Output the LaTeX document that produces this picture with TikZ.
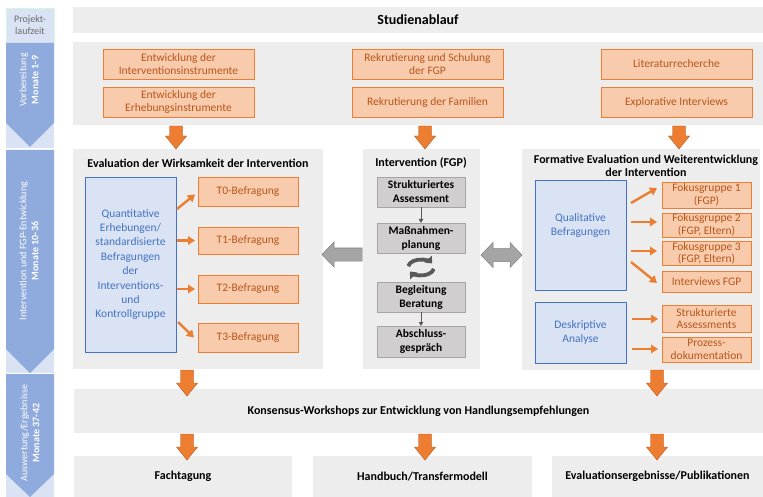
\documentclass[tikz,border=0pt]{standalone}
\usepackage{fontspec}
\setmainfont{Carlito}
\usetikzlibrary{arrows.meta,calc}
\definecolor{panel}{HTML}{EDEDED}
\definecolor{ofill}{HTML}{F8CBAD}
\definecolor{oline}{HTML}{ED7D31}
\definecolor{otext}{HTML}{B8561A}
\definecolor{bfill}{HTML}{DAE3F3}
\definecolor{bline}{HTML}{4472C4}
\definecolor{chev}{HTML}{8FAADC}
\definecolor{gfill}{HTML}{D0CECE}
\definecolor{gline}{HTML}{A5A5A5}
\definecolor{garrow}{HTML}{A5A5A5}
\definecolor{garrowline}{HTML}{7F7F7F}
\definecolor{dgray}{HTML}{595959}
\newcommand\fs[2]{\fontsize{#1}{#2}\selectfont}
\newcommand\bx[7]{\node[#1, minimum width={#4-#2}, minimum height={#5-#3}] (#6) at ({(#2+#4)/2},{(#3+#5)/2}) {#7};}
\newcommand\darr[3]{\filldraw[oblk] ({#1-6.5},#2) -- ({#1+6.5},#2) -- ({#1+6.5},{#3-13}) -- ({#1+10.5},{#3-13}) -- (#1,#3) -- ({#1-10.5},{#3-13}) -- ({#1-6.5},{#3-13}) -- cycle;}
\begin{document}
\begin{tikzpicture}[x=1pt,y=-1pt,
  every node/.style={inner sep=1pt, outer sep=0pt, align=center},
  panelbox/.style={fill=panel, draw=none},
  ptitle/.style={font=\bfseries\fs{12}{13}, text=black},
  obox/.style={fill=ofill, draw=oline, line width=0.8pt, text=otext, font=\fs{11.5}{13.5}},
  osmall/.style={obox, font=\fs{11.5}{12.5}},
  bbox/.style={fill=bfill, draw=bline, line width=0.8pt, text=bline, font=\fs{11.5}{14.4}},
  gbox/.style={fill=gfill, draw=gline, line width=0.8pt, text=black, font=\bfseries\fs{11.5}{14}},
  oblk/.style={fill=oline, draw=otext, line width=0.4pt},
  gblk/.style={fill=garrow, draw=garrowline, line width=0.5pt},
  oconn/.style={draw=oline, line width=2.4pt, -{Triangle[length=7pt,width=8.5pt]}},
  gconn/.style={draw=dgray, line width=1pt, -{Triangle[length=4pt,width=4.5pt]}},
  cyc/.style={draw=dgray, line width=3.8pt, -{Triangle[length=6pt,width=9.5pt]}},
  chevtext/.style={rotate=90, text=white, font=\fs{10}{12}},
  bottomtext/.style={panelbox, font=\bfseries\fs{12}{13}}
]
\fill[white] (0,0) rectangle (763,497);
\useasboundingbox (0,0) rectangle (763,497);

% left timeline column
\bx{fill=bfill, draw=bfill!70!green!40, line width=0.5pt, text=dgray!90, font=\fs{10}{12}}{6}{8}{54}{42}{pl}{Projekt-\\laufzeit}
\fill[bfill] (6,42) rectangle (54,148);
\fill[bfill] (6,150) rectangle (54,373);
\fill[bfill] (6,374) rectangle (54,497);
\fill[chev] (6,43) -- (54,43) -- (54,123) -- (30,147) -- (6,123) -- cycle;
\fill[chev] (6,150) -- (54,150) -- (54,349) -- (30,373) -- (6,349) -- cycle;
\fill[chev] (6,374) -- (54,374) -- (54,474) -- (30,497) -- (6,474) -- cycle;
\node[chevtext] (c1) at (29,80) {Vorbereitung\\\textbf{Monate 1-9}};
\node[chevtext] (c2) at (29,251) {Intervention und FGP-Entwicklung\\\textbf{Monate 10-36}};
\node[chevtext] (c3) at (30,433) {Auswertung/Ergebnisse\\\textbf{Monate 37-42}};

% title
\bx{panelbox, font=\bfseries\fs{14}{16}}{73}{7}{763}{33}{title}{Studienablauf}

% preparation
\bx{panelbox}{73}{42}{763}{125}{prep}{}
\bx{obox}{103}{49}{254}{79}{p1}{Entwicklung der\\Interventionsinstrumente}
\bx{obox}{103}{87}{254}{117}{p2}{Entwicklung der\\Erhebungsinstrumente}
\bx{obox}{352}{49}{503}{79}{p3}{Rekrutierung und Schulung\\der FGP}
\bx{obox}{352}{87}{503}{117}{p4}{Rekrutierung der Familien}
\bx{obox}{601}{49}{752}{79}{p5}{Literaturrecherche}
\bx{obox}{601}{87}{752}{117}{p6}{Explorative Interviews}

% main panels
\bx{panelbox}{73}{149}{323}{369}{left}{}
\bx{panelbox}{363}{149}{480}{369}{mid}{}
\bx{panelbox}{522}{149}{760}{370}{right}{}

\node[ptitle] (lt) at (198,163) {Evaluation der Wirksamkeit der Intervention};
\node[ptitle] (mt) at (421,163) {Intervention (FGP)};
\node[ptitle] (rt) at (646,165.5) {Formative Evaluation und Weiterentwicklung\\der Intervention};

% left panel content
\bx{bbox}{85}{177}{176}{352}{qb}{Quantitative\\Erhebungen/\\standardisierte\\Befragungen\\der\\Interventions-\\und\\Kontrollgruppe}
\bx{obox}{198}{177}{298}{206}{t0}{T0-Befragung}
\bx{obox}{198}{227}{298}{254}{t1}{T1-Befragung}
\bx{obox}{198}{275}{298}{303}{t2}{T2-Befragung}
\bx{obox}{198}{323}{298}{352}{t3}{T3-Befragung}
\draw[oconn] ($(qb.north east)+(1,32)$) -- ($(t0.west)+(-3,3)$);
\draw[oconn] ($(qb.east)+(1,-24)$) -- ($(t1.west)+(-3,0)$);
\draw[oconn] ($(qb.east)+(1,24.5)$) -- ($(t2.west)+(-3,0)$);
\draw[oconn] ($(qb.east)+(2,57.5)$) -- ($(t3.west)+(-4,0)$);

% middle panel content
\bx{gbox}{377}{177}{465}{207}{s1}{Strukturiertes\\Assessment}
\bx{gbox}{377}{223}{465}{253}{s2}{Maßnahmen-\\planung}
\bx{gbox}{377}{282}{465}{312}{s3}{Begleitung\\Beratung}
\bx{gbox}{377}{326}{465}{357}{s4}{Abschluss-\\gespräch}
\draw[gconn] (s1.south) -- (s2.north);
\draw[gconn] (s3.south) -- (s4.north);
\coordinate (cc) at (421,267.5);
\draw[cyc] (cc) ++(190:13 and 8) arc[start angle=190, end angle=330, x radius=13, y radius=8];
\draw[cyc] (cc) ++(10:13 and 8) arc[start angle=10, end angle=150, x radius=13, y radius=8];

% right panel content
\bx{bbox}{535}{180}{626}{290}{ql}{Qualitative\\Befragungen\\[6pt]}
\bx{bbox}{535}{302}{626}{363}{da}{Deskriptive\\Analyse}
\bx{osmall}{662}{182}{751}{208}{fg1}{Fokusgruppe 1\\(FGP)}
\bx{osmall}{662}{213}{751}{237}{fg2}{Fokusgruppe 2\\(FGP, Eltern)}
\bx{osmall}{662}{242}{751}{265}{fg3}{Fokusgruppe 3\\(FGP, Eltern)}
\bx{osmall}{662}{271}{751}{292}{ifgp}{Interviews FGP}
\bx{osmall}{662}{305}{751}{332}{sa}{Strukturierte\\Assessments}
\bx{osmall}{662}{337}{751}{362}{pd}{Prozess-\\dokumentation}
\draw[oconn] ($(ql.east)+(5,-32)$) -- ($(fg1.west)+(-5,-7)$);
\draw[oconn] ($(ql.east)+(5,-13)$) -- ($(fg2.west)+(-5,-3)$);
\draw[oconn] ($(ql.east)+(5,16)$) -- ($(fg3.west)+(-5,-2.5)$);
\draw[oconn] ($(ql.east)+(5,27)$) -- ($(ifgp.west)+(-5,1.5)$);
\draw[oconn] ($(da.east)+(6,-13.5)$) -- ($(sa.west)+(-4,0.5)$);
\draw[oconn] ($(da.east)+(6,16.5)$) -- ($(pd.west)+(-4,-0.5)$);

% gray block arrows
\filldraw[gblk] (322,254.5) -- (334,242) -- (334,248) -- (362,248) -- (362,261) -- (334,261) -- (334,267) -- cycle;
\filldraw[gblk] (481,255) -- (493,242.5) -- (493,248.5) -- (510,248.5) -- (510,242.5) -- (522,255) -- (510,267.5) -- (510,261.5) -- (493,261.5) -- (493,267.5) -- cycle;

% bottom panels
\bx{bottomtext}{74}{389}{763}{433}{kons}{Konsensus-Workshops zur Entwicklung von Handlungsempfehlungen}
\bx{bottomtext}{74}{456}{292}{497}{b1}{Fachtagung}
\bx{bottomtext}{313}{456}{532}{497}{b2}{Handbuch/Transfermodell}
\bx{bottomtext}{552}{456}{763}{497}{b3}{Evaluationsergebnisse/Publikationen}

% orange block arrows
\darr{176}{126}{149}
\darr{425}{126}{149}
\darr{679}{126}{149}
\darr{187}{370}{396}
\darr{657}{370}{396}
\darr{187}{434}{460}
\darr{425}{434}{460}
\darr{657}{434}{460}
\end{tikzpicture}
\end{document}
